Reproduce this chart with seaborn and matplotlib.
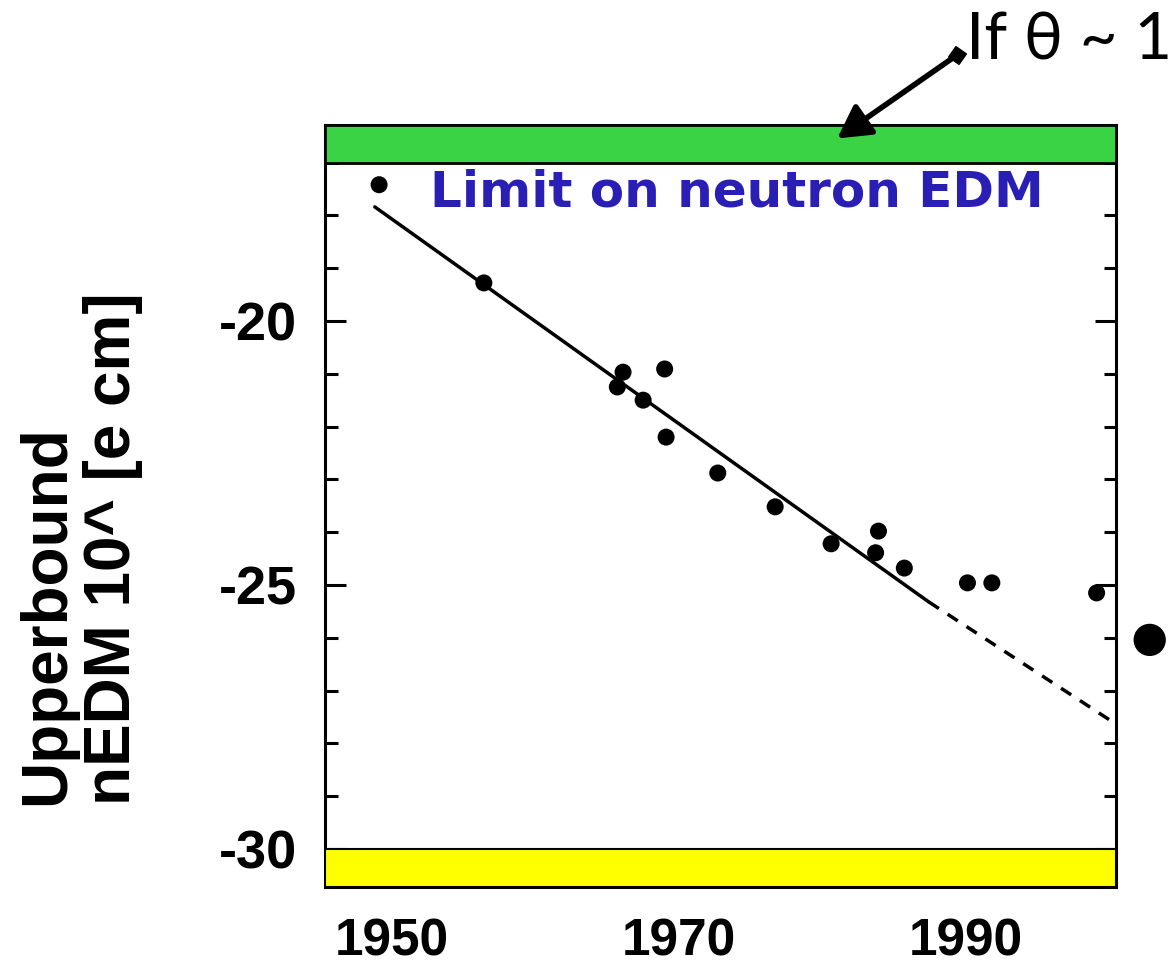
import matplotlib
matplotlib.use("Agg")
import matplotlib.pyplot as plt
from matplotlib.lines import Line2D
from matplotlib.ticker import MultipleLocator, FixedLocator
import seaborn as sns
import pandas as pd

# ---- data ----
years = [1949.1, 1956.4, 1966.1, 1965.7, 1967.5, 1969.0, 1969.1, 1972.7,
         1976.7, 1980.6, 1983.9, 1983.7, 1985.7, 1990.1, 1991.8, 1999.1]
log_limit = [-17.42, -19.28, -20.97, -21.25, -21.50, -20.91, -22.20, -22.88,
             -23.52, -24.22, -23.98, -24.39, -24.68, -24.96, -24.96, -25.15]
future_year = [2002.8]
future_limit = [-26.04]
trend_years = [1948.8, 1987.4]
trend_vals = [-17.84, -25.32]
extrap_years = [1987.4, 2000.2]
extrap_vals = [-25.32, -27.59]
x_ticks = [1950, 1970, 1990]
y_major = [-20, -25, -30]
theta_band = (-17.0, -16.29)
target_band = (-30.72, -30.0)

sns.set_style("ticks")
plt.rcParams['font.family'] = ['Liberation Sans', 'DejaVu Sans']
plt.rcParams['text.color'] = 'black'
plt.rcParams['xtick.color'] = 'black'
plt.rcParams['ytick.color'] = 'black'

fig = plt.figure(figsize=(11.72, 9.67), dpi=100)
ax = fig.add_axes([0.2773, 0.0827, 0.6749, 0.788])

df = pd.DataFrame({"year": years, "val": log_limit})
sns.scatterplot(data=df, x="year", y="val", ax=ax, color="black", s=150,
                edgecolor="none", zorder=4)
sns.scatterplot(x=future_year, y=future_limit, ax=ax, color="black", s=540,
                edgecolor="none", clip_on=False, zorder=4)
sns.lineplot(x=trend_years, y=trend_vals, ax=ax, color="black", lw=2.5, zorder=3)
sns.lineplot(x=extrap_years, y=extrap_vals, ax=ax, color="black", lw=2.5,
             linestyle=(0, (3.5, 3)), zorder=3)

ax.set_xlim(1945.33, 2000.45)
ax.set_ylim(-30.72, -16.29)

ax.axhspan(*theta_band, facecolor="#3ad345", edgecolor="black", lw=2.0, zorder=5)
ax.axhspan(*target_band, facecolor="#ffff00", edgecolor="black", lw=1.5, zorder=5)

ax.xaxis.set_major_locator(FixedLocator(x_ticks))
ax.set_xticklabels([str(v) for v in x_ticks])
ax.yaxis.set_major_locator(FixedLocator(y_major))
ax.set_yticklabels([str(v) for v in y_major])
ax.yaxis.set_minor_locator(MultipleLocator(1))

ax.tick_params(axis="x", length=0, pad=22, labelsize=37, labelcolor="black")
ax.tick_params(axis="y", which="major", direction="in", length=15, width=2.2,
               pad=20, labelsize=39, left=True, right=True, labelcolor="black")
ax.tick_params(axis="y", which="minor", direction="in", length=9, width=2.2,
               left=True, right=True)
for lab in ax.get_xticklabels() + ax.get_yticklabels():
    lab.set_fontweight("bold")

for sp in ax.spines.values():
    sp.set_linewidth(2.2)
    sp.set_color("black")
    sp.set_visible(True)

ax.set_xlabel("")
ax.set_ylabel("")

ax.text(0.133, 0.912, "Limit on neutron EDM", transform=ax.transAxes,
        fontsize=36, fontweight="bold", color="#2a1fb5", ha="left", va="center",
        family=["DejaVu Sans"], zorder=6)

fig.text(0.068, 0.1675, "Upperbound\nnEDM 10^ [e cm]", rotation=90,
         ha="center", va="bottom", multialignment="left",
         fontsize=46, fontweight="bold", linespacing=1.12, color="black")

fig.text(966 / 1172, 1 - 60 / 967, "If θ ~ 1", fontsize=47,
         family=["Lato", "DejaVu Sans"], ha="left", va="baseline", color="black")

tail = (957 / 1172, 1 - 55 / 967)
head = (835 / 1172, 1 - 140 / 967)
fig.add_artist(matplotlib.patches.FancyArrowPatch(
    tail, head, transform=fig.transFigure,
    arrowstyle="-|>,head_length=0.9,head_width=0.5",
    mutation_scale=22, lw=4.0, color="black", zorder=10))
fig.add_artist(Line2D([tail[0]], [tail[1]], marker=(4, 0, 10), markersize=13,
                      color="black", transform=fig.transFigure))

fig.savefig("out.png", dpi=100)
